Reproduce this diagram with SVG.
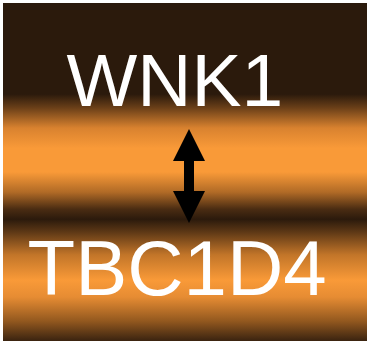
<svg xmlns="http://www.w3.org/2000/svg" width="367" height="342" viewBox="0 0 367 342">
  <defs>
    <!-- banded vertical shading: dark top, two orange bands split by a dark seam -->
    <linearGradient id="bands" gradientUnits="userSpaceOnUse" x1="0" y1="3" x2="0" y2="341">
      <stop offset="0" stop-color="#2b1a0c"/>
      <stop offset="0.27" stop-color="#2b1a0c"/>
      <stop offset="0.31" stop-color="#6a3f18"/>
      <stop offset="0.37" stop-color="#d9822f"/>
      <stop offset="0.43" stop-color="#f99a38"/>
      <stop offset="0.50" stop-color="#f99a38"/>
      <stop offset="0.56" stop-color="#b06a26"/>
      <stop offset="0.61" stop-color="#4a2c12"/>
      <stop offset="0.64" stop-color="#2b1a0c"/>
      <stop offset="0.675" stop-color="#5a3615"/>
      <stop offset="0.745" stop-color="#c27529"/>
      <stop offset="0.82" stop-color="#f99a38"/>
      <stop offset="0.87" stop-color="#e68c33"/>
      <stop offset="0.94" stop-color="#94591f"/>
      <stop offset="1" stop-color="#3a2310"/>
    </linearGradient>
    <marker id="head" markerUnits="userSpaceOnUse" markerWidth="32" markerHeight="32" viewBox="0 0 32 32" refX="0" refY="16" orient="auto-start-reverse">
      <path d="M0,0 L32,16 L0,32 z" fill="#000"/>
    </marker>
  </defs>
  <style>
    .label { font-family: "Liberation Sans", Arial, sans-serif; fill: #ffffff; }
    .link { stroke: #000; stroke-width: 10; fill: none; }
  </style>

  <rect x="0" y="0" width="367" height="342" fill="#ffffff"/>
  <rect x="3" y="3" width="364" height="338" fill="url(#bands)"/>

  <g id="connectors">
    <line class="link" x1="189" y1="161" x2="189" y2="191" marker-start="url(#head)" marker-end="url(#head)"/>
  </g>

  <g id="node-wnk1">
    <text class="label" x="66.5" y="105.5" font-size="75">WNK1</text>
  </g>

  <g id="node-tbc1d4">
    <text class="label" x="27.5" y="295" font-size="78">TBC1D4</text>
  </g>
</svg>
